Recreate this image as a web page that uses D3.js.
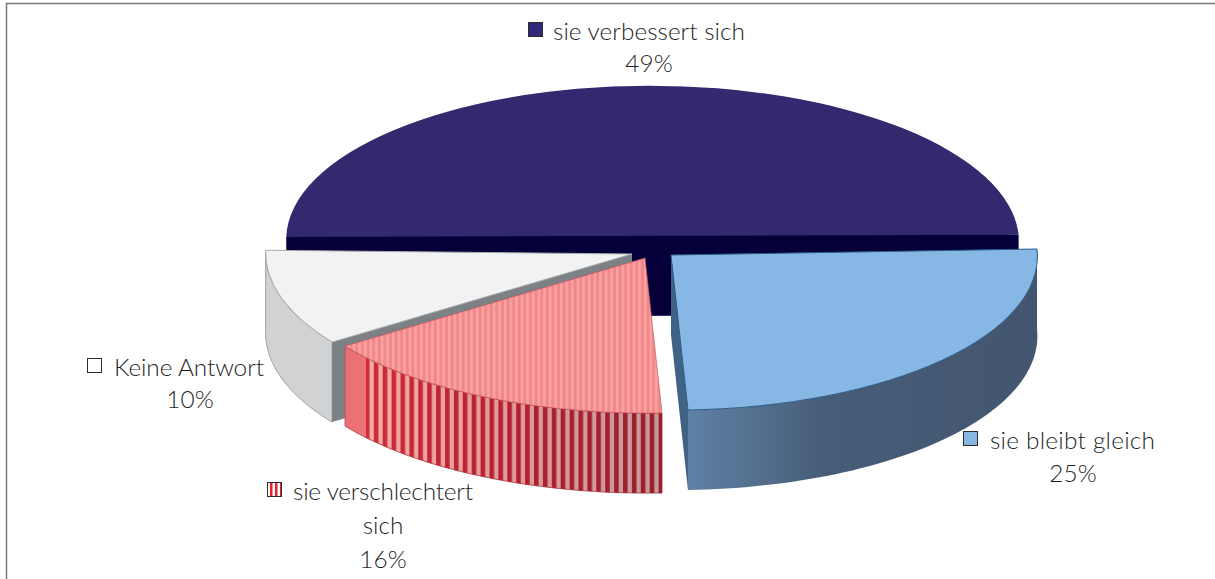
<!DOCTYPE html>
<html><head><meta charset="utf-8">
<script src="https://cdn.jsdelivr.net/npm/d3@7"></script>
<style>html,body{margin:0;padding:0;background:#fff}svg{display:block}</style>
</head><body><div id="chart"></div>
<script>
// Data, clockwise from the east point of the pie
const categories = ["sie bleibt gleich", "sie verschlechtert sich", "Keine Antwort", "sie verbessert sich"];
const values = [25, 16, 10, 49];
const valueLabels = ["25%", "16%", "10%", "49%"];

// Layout, kept apart from the data
const W = 1215, H = 579, R = 1000, depth = 80;
const U = [366, -6], V = [17, 155];                      // projected pie axes
const apex = [[671, 255], [645, 258], [632, 254], [652.6, 240.8]];   // exploded slice centres
const labelLines = [["sie bleibt gleich"], ["sie verschlechtert", "sich"], ["Keine Antwort"], ["sie verbessert sich"]];
const labelCenter = [1073, 383, 190, 649];
const labelBase = [449, 500, 376, 40];
const labelFirstX = [990, 293, 114, 553];
const labelWidth = [165, 180, 150, 192];
const swatchX = [963, 267, 87, 528];
const swatchFill = ["#87b7e4", "url(#swatchStripes)", "#ffffff", "#33297a"];
const lineGap = [33, 34, 32, 32];

const svg = d3.select("#chart").append("svg").attr("width", W).attr("height", H);
const defs = svg.append("defs");

function stripes(id, period, w, bg, fg) {
  const p = defs.append("pattern").attr("id", id).attr("patternUnits", "userSpaceOnUse")
    .attr("width", period).attr("height", 10);
  if (bg) p.append("rect").attr("width", period).attr("height", 10).attr("fill", bg);
  p.append("rect").attr("width", w).attr("height", 10).attr("fill", fg);
}
stripes("redTop", 5.6, 2.4, "#f2878a", "#f9a4a4");
stripes("wallMaskStripes", 8.9, 4.6, null, "#fff");
stripes("swatchStripes", 5, 2.5, "#ffffff", "#e8202a");

function hgrad(id, x1, x2, stops) {
  const g = defs.append("linearGradient").attr("id", id).attr("gradientUnits", "userSpaceOnUse")
    .attr("x1", x1).attr("x2", x2).attr("y1", 0).attr("y2", 0);
  stops.forEach(s => g.append("stop").attr("offset", s[0]).attr("stop-color", s[1]));
}
hgrad("blueWall", 689, 1037, [[0, "#5f80a6"], [0.12, "#587696"], [0.4, "#465c78"], [1, "#43566f"]]);
hgrad("redLight", 347, 662, [[0, "#ea7074"], [0.06, "#ec7376"], [0.061, "#f3aca4"], [0.5, "#e09a9c"], [1, "#c59a9c"]]);
hgrad("redDark", 347, 662, [[0, "#d62c3c"], [0.5, "#b5202f"], [1, "#97202b"]]);
const wallMask = defs.append("mask").attr("id", "wallMask").attr("maskUnits", "userSpaceOnUse")
  .attr("x", 0).attr("y", 0).attr("width", W).attr("height", H);
wallMask.append("rect").attr("x", 366).attr("y", 0).attr("width", W - 366).attr("height", H).attr("fill", "url(#wallMaskStripes)");

// Frame
svg.append("path").attr("d", `M6.5,${H}V3.5H${W}`).attr("fill", "none").attr("stroke", "#777").attr("stroke-width", 1.5);

const pie = d3.pie().sort(null).startAngle(Math.PI / 2).endAngle(Math.PI * 2.5);
const slices = pie(values);
const arc = d3.arc().innerRadius(0).outerRadius(R);

const project = (i, a, dz = 0) => {           // a: d3 angle, clockwise from north
  const c = Math.sin(a), s = -Math.cos(a);
  return [apex[i][0] + c * U[0] + s * V[0], apex[i][1] + c * U[1] + s * V[1] + dz];
};
const line = d3.line();

function topFace(i, fill, stroke, sw) {
  svg.append("path").attr("d", arc(slices[i]))
    .attr("transform", `matrix(${U[0] / R},${U[1] / R},${V[0] / R},${V[1] / R},${apex[i][0]},${apex[i][1]})`)
    .attr("fill", fill).attr("stroke", stroke || "none").attr("stroke-width", sw || 0)
    .attr("vector-effect", "non-scaling-stroke").attr("stroke-linejoin", "round");
}
function rimPoints(i, dz) {
  const ang = d3.interpolateNumber(slices[i].startAngle, slices[i].endAngle);
  return d3.range(0, 61).map(k => project(i, ang(k / 60), dz));
}
function wall(i, fill, stroke, extra) {
  const pts = rimPoints(i, 0).concat(rimPoints(i, depth).reverse());
  const p = svg.append("path").attr("d", line(pts) + "Z").attr("fill", fill);
  if (stroke) p.attr("stroke", stroke).attr("stroke-width", 1);
  if (extra) p.attr("mask", extra);
}
function cutFace(i, angle, fill, stroke) {
  const e = project(i, angle), ap = apex[i];
  svg.append("path").attr("d", line([ap, e, [e[0], e[1] + depth], [ap[0], ap[1] + depth]]) + "Z")
    .attr("fill", fill).attr("stroke", stroke || "none");
}

// Back slice and its straight cut face
topFace(3, "#32296f");
const w3 = project(3, slices[3].startAngle), e3 = project(3, slices[3].endAngle);
svg.append("path").attr("d", line([w3, e3, [e3[0], e3[1] + depth], [w3[0], w3[1] + depth]]) + "Z").attr("fill", "#05003a");

// Keine Antwort
wall(2, "#d1d2d4", "#9b9da0");
cutFace(2, slices[2].startAngle, "#7b8184");
topFace(2, "#f2f2f3", "#a9abad", 1);

// sie bleibt gleich
cutFace(0, slices[0].endAngle, "#3f6285");
wall(0, "url(#blueWall)");
topFace(0, "#87b7e4", "#2c5a86", 1);

// sie verschlechtert sich
wall(1, "url(#redLight)", "#b5555c");
wall(1, "url(#redDark)", null, "url(#wallMask)");
// untransformed outline, so the vertical stripes stay vertical
svg.append("path").attr("d", line([apex[1]].concat(rimPoints(1, 0))) + "Z")
  .attr("fill", "url(#redTop)").attr("stroke", "#c8555a").attr("stroke-width", 0.7);

// Labels
const labelFont = "Lato, 'Noto Sans', sans-serif";
categories.forEach((cat, i) => {
  const y0 = labelBase[i];
  const g = svg.append("g").attr("font-family", labelFont).attr("font-size", 24.4).attr("font-weight", 300).attr("fill", "#1f1f1f");
  labelLines[i].forEach((ln, k) => {
    const t = g.append("text").text(ln).attr("y", y0 + k * lineGap[i]);
    if (k === 0) t.attr("x", labelFirstX[i]).attr("textLength", labelWidth[i]).attr("lengthAdjust", "spacing");
    else t.attr("x", labelCenter[i]).attr("text-anchor", "middle");
  });
  g.append("text").text(valueLabels[i]).attr("x", labelCenter[i])
    .attr("y", y0 + labelLines[i].length * lineGap[i]).attr("text-anchor", "middle");
  svg.append("rect").attr("x", swatchX[i] + .5).attr("y", y0 - 17.5).attr("width", 14).attr("height", 14)
    .attr("fill", swatchFill[i]).attr("stroke", "#2b2b2b").attr("stroke-width", 1);
});
</script></body></html>
